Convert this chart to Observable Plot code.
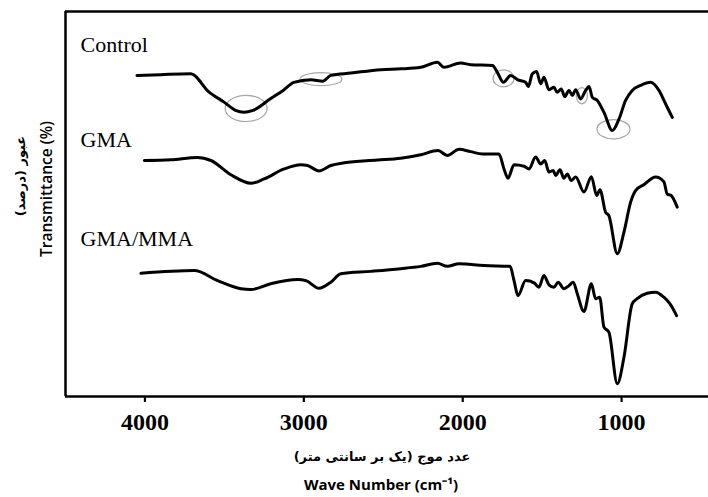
<!DOCTYPE html>
<html><head><meta charset="utf-8">
<script src="https://cdn.jsdelivr.net/npm/d3@7"></script>
<script src="https://cdn.jsdelivr.net/npm/@observablehq/plot@0.6"></script>
<style>body{margin:0;background:#fff} #chart svg{display:block}</style>
</head><body><div id="chart"></div>
<script>
// Series names
const seriesNames = ["Control", "GMA", "GMA/MMA"];

// Control spectrum (wavenumber cm-1, transmittance, offset units)
const controlWn = [4050,3900,3711,3600,3500,3430,3377,3320,3208,3130,3063,2956,2881,2830,2704,2516,2390,2264,2159,2119,2013,1950,1813,1782,1744,1698,1656,1604,1587,1562,1535,1509,1489,1457,1426,1405,1380,1358,1331,1310,1289,1258,1226,1205,1184,1153,1111,1058,1016,975,933,880,818,765,723,681];
const controlT = [83.4,83.6,83.8,79.2,76.4,74.3,73.8,74.3,77.4,79.5,81.6,82.3,81.9,83.4,84.0,84.9,85.1,85.5,86.8,85.5,86.6,86.2,86.0,84.2,81.6,83.4,82.3,81.6,80.5,83.8,84.4,81.2,82.9,79.7,80.3,79.0,79.9,77.9,79.5,78.2,79.7,77.3,79.5,80.5,77.7,76.9,73.8,69.1,72.1,76.9,79.5,80.8,81.6,79.5,76.0,72.5];

// GMA spectrum
const gmaWn = [4004,3836,3669,3585,3459,3333,3250,3124,3019,2977,2904,2830,2746,2536,2390,2264,2155,2097,2023,1950,1876,1772,1740,1715,1677,1614,1583,1541,1509,1484,1457,1430,1415,1388,1363,1342,1317,1289,1237,1190,1157,1136,1101,1080,1027,985,943,912,860,786,734,713,688,650];
const gmaT = [61.3,61.5,62.1,61.3,57.6,55.4,56.5,59.1,60.2,60.0,58.6,60.0,60.7,61.4,61.9,62.8,63.9,62.6,64.2,63.6,63.0,63.0,59.1,56.7,60.2,59.8,59.1,62.2,60.4,61.3,58.3,58.7,57.4,58.9,56.7,57.8,56.1,57.0,53.1,57.1,52.2,53.7,47.9,47.0,37.1,42.7,50.5,53.5,55.0,57.0,55.8,52.6,52.2,49.2];

// GMA/MMA spectrum
const gmammaWn = [4025,3690,3543,3396,3333,3208,3040,2987,2904,2830,2767,2579,2390,2264,2159,2097,2023,1866,1702,1677,1652,1604,1551,1520,1489,1457,1426,1399,1363,1331,1304,1279,1237,1190,1164,1138,1111,1080,1027,985,933,902,839,786,734,696,654];
const gmammaT = [32.0,32.7,30.1,28.0,27.8,29.3,30.4,30.1,28.1,29.7,31.9,32.5,33.2,33.8,34.6,33.8,34.5,34.0,33.8,30.1,26.2,30.1,29.5,28.4,31.4,29.0,28.4,29.7,28.0,28.8,29.7,26.7,22.1,29.3,25.4,25.8,18.0,16.7,3.3,10.2,24.1,25.4,26.8,27.1,25.8,24.1,21.0];

// Tick labels
const xTicks = [4000, 3000, 2000, 1000];

// Circled bands on the Control spectrum (centre and half-extent in data units)
const circledWn = [3360, 2889, 1740, 1247, 1048];
const circledT = [74.7, 82.3, 82.5, 78.0, 69.3];
const circledHalfWn = [132, 132, 66, 35, 104];
const circledHalfT = [3.4, 1.7, 2.2, 2.1, 2.5];

// Build tidy data
const seriesWn = [controlWn, gmaWn, gmammaWn];
const seriesT = [controlT, gmaT, gmammaT];
const rows = [];
seriesNames.forEach((name, i) => seriesWn[i].forEach((wn, j) => rows.push({series: name, wn, t: seriesT[i][j]})));
const circled = circledWn.map((wn, i) => ({wn, t: circledT[i], hw: circledHalfWn[i], ht: circledHalfT[i]}));
const labels = [
  {name: seriesNames[0], wn: 4405, t: 91.4},
  {name: seriesNames[1], wn: 4405, t: 66.7},
  {name: seriesNames[2], wn: 4405, t: 41.0}
];

const ellipseMark = (index, scales) => {
  const g = d3.create("svg:g");
  for (const c of circled) {
    const cx = scales.x(c.wn), cy = scales.y(c.t);
    const rx = Math.abs(scales.x(c.wn + c.hw) - cx);
    const ry = Math.abs(scales.y(c.t + c.ht) - cy);
    g.append("ellipse").attr("cx", cx).attr("cy", cy).attr("rx", rx).attr("ry", ry)
      .attr("fill", "none").attr("stroke", "#a8a8a8").attr("stroke-width", 1.2);
  }
  return g.node();
};

const plot = Plot.plot({
  width: 708,
  height: 497,
  marginLeft: 65,
  marginRight: 0,
  marginTop: 11,
  marginBottom: 101,
  x: {domain: [4500, 453]},
  y: {domain: [0, 100], axis: null},
  style: {background: "#fff", overflow: "visible"},
  marks: [
    ellipseMark,
    Plot.line(rows, {x: "wn", y: "t", z: "series", stroke: "#000", strokeWidth: 3, strokeLinejoin: "round", curve: "monotone-x"}),
    Plot.ruleY([0], {stroke: "#000", strokeWidth: 2.5}),
    Plot.ruleY([100], {stroke: "#000", strokeWidth: 2.5}),
    Plot.ruleX([4500], {stroke: "#000", strokeWidth: 2.5}),
    Plot.axisX(xTicks, {tickSize: 6, strokeWidth: 2.2, tickPadding: 10, fontSize: 24, fontWeight: "bold",
      fontFamily: "'Liberation Serif', 'Times New Roman', serif", tickFormat: d3.format("d"), label: null}),
    Plot.text(labels, {x: "wn", y: "t", text: "name", textAnchor: "start", fontSize: 22,
      fontFamily: "'Liberation Serif', 'Times New Roman', serif", fill: "#000"}),
    Plot.text(["عدد موج (یک بر سانتی متر)"], {frameAnchor: "bottom", dy: 64, dx: -5, fontSize: 13, fontWeight: "bold",
      fontFamily: "'DejaVu Sans', sans-serif", fill: "#000"}),
    Plot.text(["Wave Number (cm⁻¹)"], {frameAnchor: "bottom", dy: 93, dx: -6, fontSize: 15, fontWeight: "bold",
      fontFamily: "'Open Sans', sans-serif", fill: "#000"}),
    Plot.text(["Transmittance (%)"], {frameAnchor: "left", textAnchor: "middle", dx: -18, dy: -15, rotate: -90, fontSize: 15.5, fontWeight: 600,
      fontFamily: "'Open Sans', sans-serif", fill: "#000"}),
    Plot.text(["عبور (درصد)"], {frameAnchor: "left", textAnchor: "middle", dx: -45, dy: -28, rotate: -90, fontSize: 13, fontWeight: "bold",
      fontFamily: "'DejaVu Sans', sans-serif", fill: "#000"})
  ]
});
document.getElementById("chart").appendChild(plot);
</script>
</body></html>
